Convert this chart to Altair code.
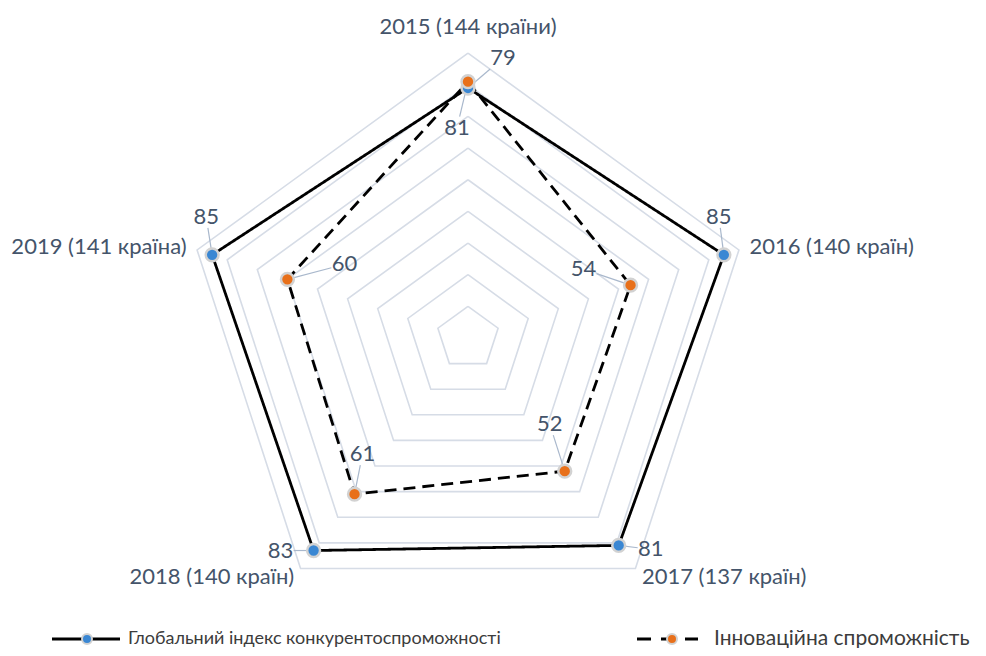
import altair as alt
import pandas as pd

# ---------------- data ----------------
categories = ["2015 (144 країни)", "2016 (140 країн)", "2017 (137 країн)",
              "2018 (140 країн)", "2019 (141 країна)"]
gci_values = [79, 85, 81, 83, 85]
innov_values = [81, 54, 52, 61, 60]
ring_levels = [10, 20, 30, 40, 50, 60, 70, 80, 90]
series_names = ["Глобальний індекс конкурентоспроможності", "Інноваційна спроможність"]

# ---------------- layout / style ----------------
CX, CY, K = 468, 338, 3.165      # page px of centre, px per unit
W, H = 970, 640
LABEL_R = 93.5
FONT = "Lato"
FS = 22
TXT = "#44546a"
LEG_TXT = "#3c3c3c"
GRID = "#d6dce6"
COLORS = ["#3a87d3", "#e8701a"]
# data-label offsets in px (screen), per series / category
label_off = {
    series_names[0]: [(35, -30), (-5, -38), (32, 4), (-33, 0), (-6, -38)],
    series_names[1]: [(-11, 46), (-47, -16), (-15, -47), (8, -40), (57, -15)],
}
cat_align = ["center", "left", "left", "right", "right"]

xs = alt.Scale(domain=[-(CX - 8) / K, (W + 8 - CX) / K], nice=False, zero=False)
ymax = (CY - 8) / K
ys = alt.Scale(domain=[ymax - H / K, ymax], nice=False, zero=False)
X = alt.X("x:Q", scale=xs, axis=None)
Y = alt.Y("y:Q", scale=ys, axis=None)
ANG = "datum.i*2*PI/5"

# ---------------- tables ----------------
grid_rows = [{"ring": r, "i": i % 5, "o": i} for r in ring_levels for i in range(6)]
grid_df = pd.DataFrame(grid_rows)

pts = []
for s, vals in zip(series_names, [gci_values, innov_values]):
    for o in range(6):
        i = o % 5
        dx, dy = label_off[s][i]
        sx = min(13 / abs(dx) if dx else 9, 11 / abs(dy) if dy else 9)
        pts.append({"series": s, "i": i, "o": o, "v": vals[i], "cat": categories[i],
                    "dx": dx, "dy": dy, "ex": dx * (1 - sx), "ey": dy * (1 - sx),
                    "label": str(vals[i]), "last": o == 5})
pts_df = pd.DataFrame(pts)

cat_df = pd.DataFrame({"cat": categories, "i": list(range(5)), "align": cat_align})

base_calc = dict(x=f"datum.v*sin({ANG})", y=f"datum.v*cos({ANG})")

grid = alt.Chart(grid_df).transform_calculate(
    x=f"datum.ring*sin({ANG})", y=f"datum.ring*cos({ANG})"
).mark_line(color=GRID, strokeWidth=1.6).encode(
    x=X, y=Y, detail="ring:N", order="o:Q")

lines = alt.Chart(pts_df).transform_calculate(**base_calc).mark_line(
    color="black", strokeWidth=2.8).encode(
    x=X, y=Y, detail="series:N", order="o:Q",
    strokeDash=alt.StrokeDash("series:N", scale=alt.Scale(domain=series_names, range=[[1, 0], [12, 7]]), legend=None))

single = alt.Chart(pts_df).transform_filter("!datum.last").transform_calculate(**base_calc)

leaders = single.transform_calculate(
    x2=f"datum.x + datum.ex/{K}", y2=f"datum.y - datum.ey/{K}"
).mark_rule(color="#a9b8cc", strokeWidth=1.2).encode(x=X, y=Y, x2="x2:Q", y2="y2:Q")

points = single.mark_circle(size=165, stroke="#d2d2d2", strokeWidth=2.5, opacity=1).encode(
    x=X, y=Y,
    color=alt.Color("series:N", scale=alt.Scale(domain=series_names, range=COLORS), legend=None))

labels = single.transform_calculate(
    lx=f"datum.x + datum.dx/{K}", ly=f"datum.y - datum.dy/{K}"
).mark_text(font=FONT, fontSize=FS, color=TXT, align="center", baseline="middle").encode(
    x=alt.X("lx:Q", scale=xs, axis=None), y=alt.Y("ly:Q", scale=ys, axis=None), text="label:N")


def cat_layer(al, dy=0):
    return alt.Chart(cat_df).transform_filter(f"datum.align == '{al}'").transform_calculate(
        x=f"{LABEL_R}*sin({ANG})", y=f"{LABEL_R}*cos({ANG})"
    ).mark_text(font=FONT, fontSize=FS, color=TXT, align=al, baseline="middle", dy=dy).encode(
        x=X, y=Y, text="cat:N")


cats = cat_layer("center", -15) + cat_layer("left") + cat_layer("right")

# ---------------- legend (manual, bottom) ----------------
LY = 631
leg_df = pd.DataFrame({"name": series_names})


def leg(name):
    return alt.Chart(leg_df).transform_filter(f"datum.name == '{name}'")


leg1_line = leg(series_names[0]).mark_rule(color="black", strokeWidth=2.8).encode(
    x=alt.value(44), x2=alt.value(112), y=alt.value(LY))
leg1_pt = leg(series_names[0]).mark_circle(
    size=100, color=COLORS[0], stroke="#d2d2d2", strokeWidth=2, opacity=1).encode(
    x=alt.value(79), y=alt.value(LY))
leg1_txt = leg(series_names[0]).mark_text(
    font=FONT, fontSize=18, color=LEG_TXT, align="left", baseline="middle").encode(
    x=alt.value(120), y=alt.value(LY), text="name:N")
leg2_line = leg(series_names[1]).mark_rule(
    color="black", strokeWidth=2.8, strokeDash=[14, 10]).encode(
    x=alt.value(629), x2=alt.value(690), y=alt.value(LY))
leg2_pt = leg(series_names[1]).mark_circle(
    size=100, color=COLORS[1], stroke="#d2d2d2", strokeWidth=2, opacity=1).encode(
    x=alt.value(664), y=alt.value(LY))
leg2_txt = leg(series_names[1]).mark_text(
    font=FONT, fontSize=21, color=LEG_TXT, align="left", baseline="middle").encode(
    x=alt.value(706), y=alt.value(LY), text="name:N")

chart = alt.layer(
    grid, lines, leaders, points, labels, cats,
    leg1_line, leg1_pt, leg1_txt, leg2_line, leg2_pt, leg2_txt
).properties(
    width=W, height=H, padding=0, autosize=alt.AutoSizeParams(type="none")
).configure_view(stroke=None)

chart.save("out.html", embed_options={"renderer": "svg", "actions": False})
